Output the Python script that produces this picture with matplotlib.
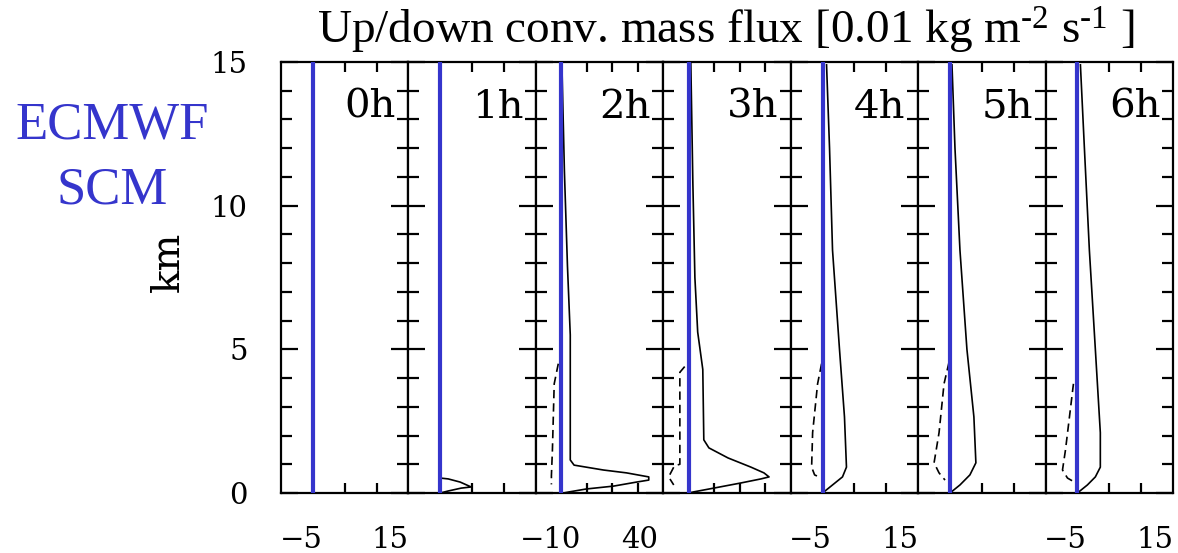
import numpy as np
import matplotlib
matplotlib.use('Agg')
import matplotlib.pyplot as plt
from matplotlib.ticker import MultipleLocator

plt.rcParams['mathtext.fontset'] = 'custom'
plt.rcParams['mathtext.rm'] = 'Liberation Serif'
plt.rcParams['mathtext.it'] = 'Liberation Serif:italic'

# panel labels and x ranges
hours = ['0h', '1h', '2h', '3h', '4h', '5h', '6h']
xlims = [(-8, 24), (-8, 24), (-10, 40), (-10, 40), (-8, 24), (-8, 24), (-8, 24)]
xstep = [8, 8, 10, 10, 8, 8, 8]

# bottom tick labels (text, position) per panel
xlab_text = [['−5', '15'], [], ['−10', '40'], [], ['−5', '15'], [], ['−5', '15']]
xlab_pos = [[-3, 19.4], [], [-4.1, 30.8], [], [-3, 19.4], [], [-3, 19.4]]

# updraft (solid) profiles: flux, height [km]
up_x = {
    '1h': [0, 2, 5, 7.75, 5.25, 2, 0],
    '2h': [0.2, 1.2, 2.4, 3.5, 3.5, 5.0, 16.5, 25.6, 34.3, 34.3, 29.5, 20.5, 9.8, 3.2, 0.8],
    '3h': [0.8, 1.6, 2.4, 3.5, 5.5, 5.9, 7.9, 15.4, 24.4, 29.5, 31.5, 28.3, 20.5, 9.8, 2, 0],
    '4h': [1, 1.75, 2.5, 4.25, 5.5, 6, 5, 2.5, 0],
    '5h': [0.5, 1.25, 2.5, 4.25, 6, 6.5, 5, 2.5, 0],
    '6h': [0.75, 1.75, 3, 4.5, 5.75, 5.75, 4.5, 2.5, 0],
}
up_z = {
    '1h': [0.52, 0.49, 0.38, 0.21, 0.17, 0.07, 0],
    '2h': [15, 11.2, 7.9, 5.5, 1.15, 0.97, 0.8, 0.7, 0.56, 0.45, 0.38, 0.24, 0.14, 0.04, 0],
    '3h': [15, 10.8, 7.5, 5.6, 4.3, 1.85, 1.57, 1.22, 0.9, 0.7, 0.56, 0.49, 0.35, 0.17, 0.04, 0],
    '4h': [14.9, 12.0, 8.45, 5.0, 2.65, 0.9, 0.56, 0.28, 0],
    '5h': [14.9, 12.0, 8.45, 5.0, 2.65, 1.05, 0.63, 0.28, 0],
    '6h': [14.9, 12.0, 8.45, 5.0, 2.1, 0.9, 0.56, 0.28, 0],
}

# downdraft (dashed) profiles
down_x = {
    '2h': [-1.2, -2.8, -3.5, -3.9, -3.9],
    '3h': [-1.6, -3.5, -3.5, -5.5, -5.9, -7.9, -5.9],
    '4h': [-0.25, -1.25, -2.5, -2.75, -2, -0.25],
    '5h': [-0.25, -1.5, -2.75, -4, -2.75, -1.25],
    '6h': [-1, -2, -3, -3.75, -2.5, -0.75],
}
down_z = {
    '2h': [4.5, 3.8, 1.5, 0.6, 0.3],
    '3h': [4.4, 4.2, 1.0, 0.95, 0.9, 0.56, 0.28],
    '4h': [4.5, 3.8, 2.1, 0.9, 0.63, 0.52],
    '5h': [4.55, 3.8, 2.1, 1.05, 0.7, 0.45],
    '6h': [3.8, 2.65, 1.5, 0.8, 0.52, 0.38],
}

BLUE = '#3535cc'
W, H = 1178, 553
fig = plt.figure(figsize=(W / 100, H / 100), dpi=100)

left, right, bottom, top = 281, 1173, 493, 62
pw = (right - left) / len(hours)

for i, h in enumerate(hours):
    ax = fig.add_axes([(left + i * pw) / W, (H - bottom) / H, pw / W, (bottom - top) / H])
    ax.set_xlim(*xlims[i])
    ax.set_ylim(0, 15)
    ax.axvline(0, color=BLUE, lw=3, zorder=3)
    if h in up_x:
        ax.plot(up_x[h], up_z[h], color='k', lw=1.2, zorder=2)
    if h in down_x:
        ax.plot(down_x[h], down_z[h], color='k', lw=1.2, ls=(0, (5, 3)), zorder=2)

    for s in ax.spines.values():
        s.set_linewidth(1.6)
    ax.yaxis.set_major_locator(MultipleLocator(5))
    ax.yaxis.set_minor_locator(MultipleLocator(1))
    ax.tick_params(axis='y', which='major', direction='in', length=12, width=1.6,
                   left=True, right=True, labelleft=(i == 0), labelsize=21, pad=24)
    ax.tick_params(axis='y', which='minor', direction='in', length=8, width=1.6,
                   left=True, right=True)
    ax.set_xticks(np.arange(xlims[i][0], xlims[i][1] + 1, xstep[i])[1:-1], minor=True)
    ax.tick_params(axis='x', which='minor', direction='in', length=7, width=1.6,
                   top=True, bottom=True)
    ax.set_xticks(xlab_pos[i], labels=xlab_text[i])
    ax.tick_params(axis='x', which='major', length=0, labelsize=21, pad=24)
    for lab in ax.get_xticklabels() + ax.get_yticklabels():
        lab.set_fontfamily('DejaVu Serif')

    ax.text(0.9, 0.895, h, transform=ax.transAxes, ha='right', va='center',
            fontsize=29, family='DejaVu Serif')

fig.text(168 / W, 1 - 262 / H, 'km', rotation=90, ha='center', va='center',
         fontsize=28, family='DejaVu Serif')
fig.text(726 / W, 1 - 31 / H, r'Up/down conv. mass flux [0.01 kg m$^{\text{-2}}$ s$^{\text{-1}}$ ]',
         ha='center', va='center', fontsize=34, family='Liberation Serif')
fig.text(112 / W, 1 - 125 / H, 'ECMWF', ha='center', va='center', fontsize=38,
         family='Liberation Serif', color=BLUE)
fig.text(112 / W, 1 - 190 / H, 'SCM', ha='center', va='center', fontsize=38,
         family='Liberation Serif', color=BLUE)

fig.savefig('out.png', dpi=100)
